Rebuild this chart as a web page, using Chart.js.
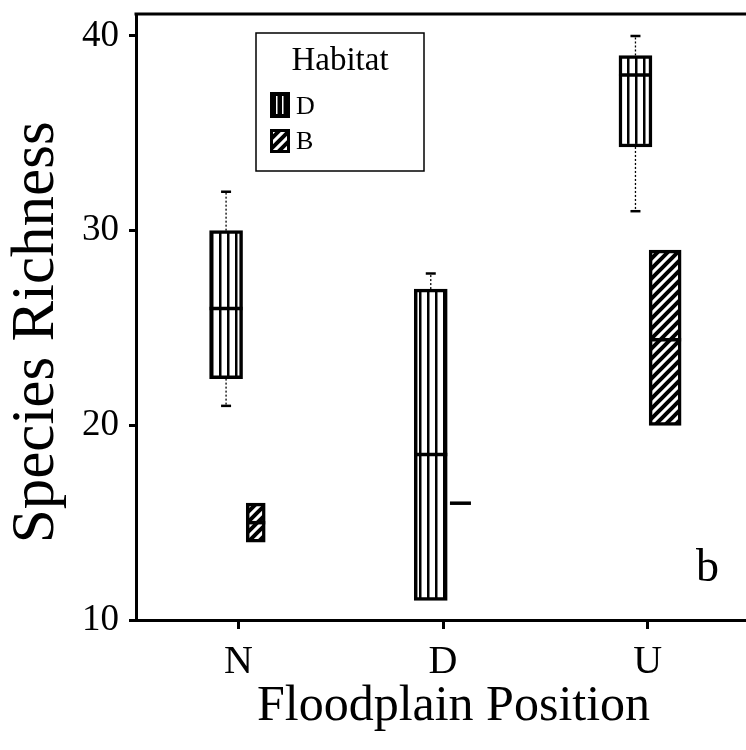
<!DOCTYPE html>
<html>
<head>
<meta charset="utf-8">
<script src="https://cdn.jsdelivr.net/npm/chart.js@4.4.1/dist/chart.umd.min.js"></script>
<style>
  html, body { margin: 0; padding: 0; background: #fff; }
  #wrap { width: 746px; height: 750px; }
</style>
</head>
<body>
<div id="wrap"><canvas id="chart" width="746" height="750"></canvas></div>
<script>
// floodplain positions (x axis)
const positions = ['N', 'D', 'U'];
const positionValues = [1, 2, 3];
const yTicks = [10, 20, 30, 40];

// habitat D boxes
const dLow = [22.4, 11, 34.3];
const dHigh = [30, 27, 39];
const dMedian = [26, 18.5, 38];
const dWhiskerLow = [21, null, 31];
const dWhiskerHigh = [32, 27.8, 40];

// habitat B boxes
const bLow = [14, 16, 20];
const bHigh = [16, 16, 29];
const bMedian = [15, 16, 24.4];

// styling
const FONT = "'Liberation Serif', 'DejaVu Serif', serif";
const offsetD = -0.06;
const offsetB = 0.085;
const widthD = 33;
const widthsB = [19, 21, 32];

function stripePattern() {
  const c = document.createElement('canvas');
  c.width = 8; c.height = 8;
  const g = c.getContext('2d');
  g.fillStyle = '#fff';
  g.fillRect(0, 0, 8, 8);
  g.fillStyle = '#000';
  g.fillRect(3, 0, 2.5, 8);
  return g.createPattern(c, 'repeat');
}

function hatchPattern() {
  const c = document.createElement('canvas');
  c.width = 10; c.height = 10;
  const g = c.getContext('2d');
  g.fillStyle = '#fff';
  g.fillRect(0, 0, 10, 10);
  g.strokeStyle = '#000';
  g.lineWidth = 4;
  g.beginPath();
  g.moveTo(-5, 5); g.lineTo(5, -5);
  g.moveTo(0, 10); g.lineTo(10, 0);
  g.moveTo(5, 15); g.lineTo(15, 5);
  g.stroke();
  return g.createPattern(c, 'repeat');
}

const stripes = stripePattern();
const hatch = hatchPattern();

const datasets = [{
  label: 'D',
  data: positionValues.map((x, i) => ({ x: x + offsetD, y: [dLow[i], dHigh[i]] })),
  backgroundColor: stripes,
  borderColor: '#000',
  borderWidth: 3.5,
  borderSkipped: false,
  barThickness: widthD,
  stack: 'one'
}];
positionValues.forEach((x, i) => {
  datasets.push({
    label: 'B',
    data: [{ x: x + offsetB, y: [bLow[i], bHigh[i]] }],
    backgroundColor: hatch,
    borderColor: '#000',
    borderWidth: 3.5,
    borderSkipped: false,
    barThickness: widthsB[i],
    stack: 'one'
  });
});

const boxExtras = {
  id: 'boxExtras',
  afterDatasetsDraw(chart) {
    const ctx = chart.ctx;
    const y = chart.scales.y;
    ctx.save();
    ctx.strokeStyle = '#000';
    // medians
    const drawMedian = (bar, v) => {
      const py = y.getPixelForValue(v);
      ctx.lineWidth = 3.5;
      ctx.beginPath();
      ctx.moveTo(bar.x - bar.width / 2, py);
      ctx.lineTo(bar.x + bar.width / 2, py);
      ctx.stroke();
    };
    const dMeta = chart.getDatasetMeta(0);
    dMeta.data.forEach((bar, i) => drawMedian(bar, dMedian[i]));
    bMedian.forEach((m, i) => drawMedian(chart.getDatasetMeta(i + 1).data[0], m));

    // whiskers
    const whisker = (bar, from, to) => {
      if (to === null) return;
      const p0 = y.getPixelForValue(from);
      const p1 = y.getPixelForValue(to);
      ctx.lineWidth = 1.3;
      ctx.setLineDash([2, 2]);
      ctx.beginPath();
      ctx.moveTo(bar.x, p0);
      ctx.lineTo(bar.x, p1);
      ctx.stroke();
      ctx.setLineDash([]);
      ctx.lineWidth = 2.5;
      ctx.beginPath();
      ctx.moveTo(bar.x - 5, p1);
      ctx.lineTo(bar.x + 5, p1);
      ctx.stroke();
    };
    dMeta.data.forEach((bar, i) => {
      whisker(bar, dHigh[i], dWhiskerHigh[i]);
      whisker(bar, dLow[i], dWhiskerLow[i]);
    });
    ctx.restore();
  },
  afterDraw(chart) {
    const ctx = chart.ctx;
    const area = chart.chartArea;
    ctx.save();
    // top frame line
    ctx.strokeStyle = '#000';
    ctx.lineWidth = 3;
    ctx.beginPath();
    ctx.moveTo(area.left - 1.5, area.top);
    ctx.lineTo(area.right, area.top);
    ctx.stroke();

    // legend
    const lx = 256, ly = 33, lw = 168, lh = 138;
    ctx.lineWidth = 1.5;
    ctx.strokeRect(lx, ly, lw, lh);
    ctx.fillStyle = '#000';
    ctx.font = '33px ' + FONT;
    ctx.textAlign = 'center';
    ctx.textBaseline = 'middle';
    ctx.fillText('Habitat', lx + lw / 2, ly + 28);

    // D swatch: dark with thin light stripes
    ctx.fillStyle = '#000';
    ctx.fillRect(lx + 14, ly + 59, 20, 26);
    ctx.fillStyle = '#fff';
    ctx.fillRect(lx + 20, ly + 63, 1.5, 18);
    ctx.fillRect(lx + 26, ly + 63, 1.5, 18);
    // B swatch
    ctx.fillStyle = hatch;
    ctx.fillRect(lx + 14, ly + 96, 20, 24);
    ctx.lineWidth = 3;
    ctx.strokeRect(lx + 15.5, ly + 97.5, 17, 21);

    ctx.fillStyle = '#000';
    ctx.font = '26px ' + FONT;
    ctx.textAlign = 'left';
    ctx.fillText('D', lx + 40, ly + 74);
    ctx.fillText('B', lx + 40, ly + 109);

    // panel letter
    ctx.font = '46px ' + FONT;
    ctx.fillText('b', 696, 569);
    ctx.restore();
  }
};

new Chart(document.getElementById('chart'), {
  type: 'bar',
  data: { datasets },
  options: {
    responsive: false,
    animation: false,
    events: [],
    layout: { padding: { top: 14, left: 0, right: 0, bottom: 0 } },
    plugins: { legend: { display: false }, tooltip: { enabled: false } },
    scales: {
      x: {
        type: 'linear',
        min: 0.5,
        max: 3.48,
        offset: false,
        afterBuildTicks: s => { s.ticks = positionValues.map(v => ({ value: v })); },
        afterFit: s => { s.height = 130; s.paddingLeft = 0; s.paddingRight = 0; },
        ticks: {
          autoSkip: false,
          maxRotation: 0,
          color: '#000',
          font: { family: FONT, size: 40 },
          padding: 9,
          callback: v => positions[positionValues.indexOf(v)]
        },
        grid: { offset: false, drawOnChartArea: false, drawTicks: true, tickLength: 9, tickWidth: 3, tickColor: '#000' },
        border: { color: '#000', width: 3 },
        title: {
          display: true,
          text: '  Floodplain Position',
          color: '#000',
          font: { family: FONT, size: 50 },
          padding: { top: 0, bottom: 13 }
        }
      },
      y: {
        min: 10,
        max: 41.13,
        stacked: false,
        afterBuildTicks: s => { s.ticks = yTicks.map(v => ({ value: v })); },
        afterFit: s => { s.width = 136; s.paddingTop = 0; s.paddingBottom = 0; },
        ticks: {
          color: '#000',
          font: { family: FONT, size: 37 },
          padding: 10
        },
        grid: { drawOnChartArea: false, drawTicks: true, tickLength: 7, tickWidth: 3, tickColor: '#000' },
        border: { color: '#000', width: 3 },
        title: {
          display: true,
          text: 'Species Richness  ',
          color: '#000',
          font: { family: FONT, size: 61 },
          padding: { top: 0, bottom: 0 }
        }
      }
    }
  },
  plugins: [boxExtras]
});
</script>
</body>
</html>
